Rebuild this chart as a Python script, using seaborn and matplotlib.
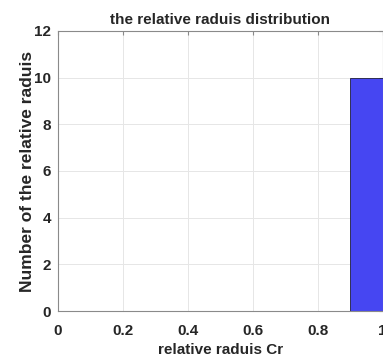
import numpy as np
import pandas as pd
import matplotlib
matplotlib.use('Agg')
import matplotlib.pyplot as plt
import seaborn as sns

# histogram bins and counts
bin_edges = [0.0, 0.1, 0.2, 0.3, 0.4, 0.5, 0.6, 0.7, 0.8, 0.9, 1.0]
bin_counts = [0, 0, 0, 0, 0, 0, 0, 0, 0, 10]
x_ticks = [0, 0.2, 0.4, 0.6, 0.8, 1]
x_tick_labels = ['0', '0.2', '0.4', '0.6', '0.8', '1']
y_ticks = [0, 2, 4, 6, 8, 10, 12]

centers = [(a + b) / 2 for a, b in zip(bin_edges[:-1], bin_edges[1:])]
df = pd.DataFrame({'Cr': centers, 'count': bin_counts})

sns.set_style('white')
plt.rcParams['font.family'] = ['Liberation Sans', 'DejaVu Sans']
plt.rcParams['font.weight'] = 'bold'

fig = plt.figure(figsize=(3.83, 3.6), dpi=100)
ax = fig.add_axes([0.151, 0.136, 0.848, 0.778])

sns.histplot(data=df, x='Cr', weights='count', bins=bin_edges, ax=ax,
             color='#4646f2', alpha=1.0, edgecolor='#1e1e3c', linewidth=0.6)

ax.set_xlim(0, 1)
ax.set_ylim(0, 12)
ax.set_xticks(x_ticks)
ax.set_xticklabels(x_tick_labels)
ax.set_yticks(y_ticks)
ax.grid(True, color='#e6e6e6', linewidth=0.7)
ax.set_axisbelow(True)
for s in ax.spines.values():
    s.set_color('#8a8a8a')
    s.set_linewidth(0.8)
ax.tick_params(direction='in', length=3, color='#8a8a8a', labelsize=11,
               top=True, right=True)
ax.tick_params(axis='x', pad=9)
ax.tick_params(axis='y', pad=5)
for lab in ax.get_xticklabels() + ax.get_yticklabels():
    lab.set_fontweight('bold')

ax.set_title('the relative raduis distribution', fontsize=11, fontweight='bold', pad=5)
ax.set_xlabel('relative raduis Cr', fontsize=11, fontweight='bold', labelpad=4)
ax.set_ylabel('Number of the relative raduis', fontsize=12.5, fontweight='bold', labelpad=-1)

fig.savefig('out.png', dpi=100)
